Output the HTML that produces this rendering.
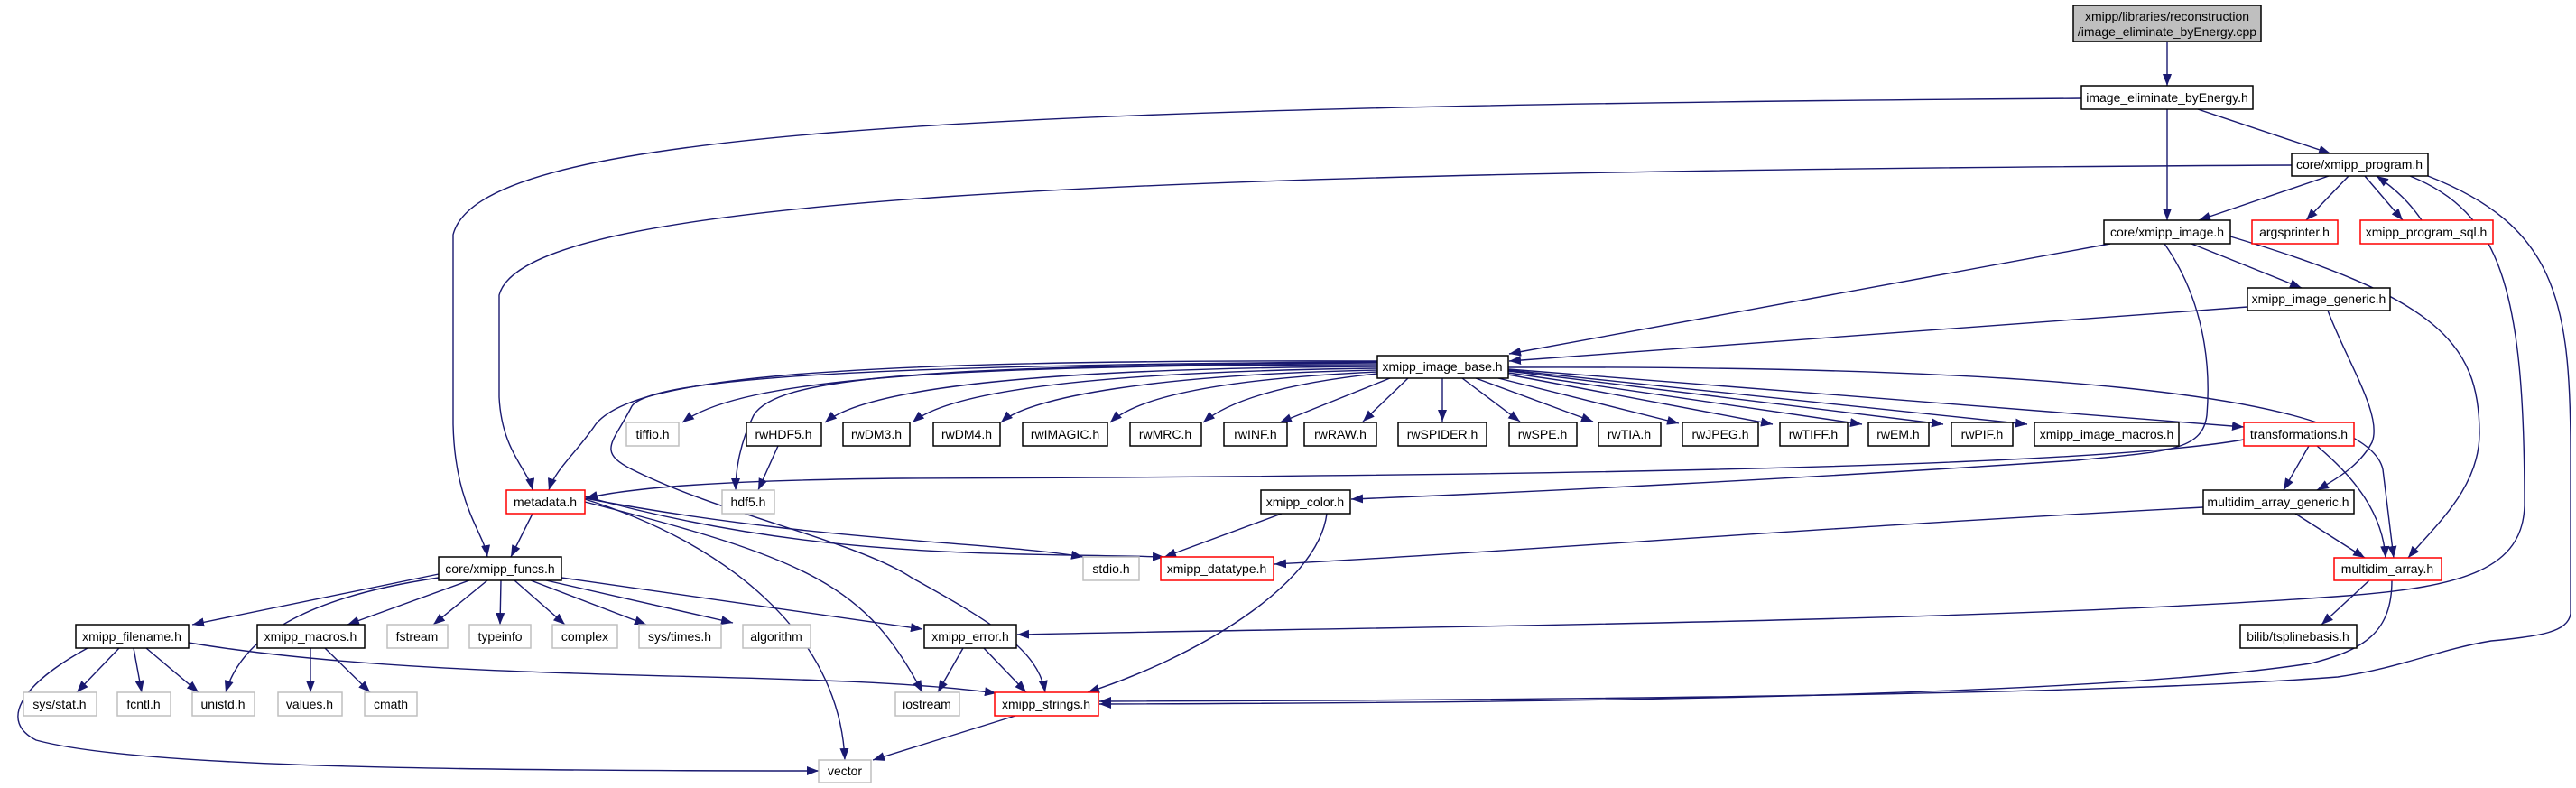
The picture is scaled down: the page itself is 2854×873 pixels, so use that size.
<!DOCTYPE html>
<html><head><meta charset="utf-8"><style>
html,body{margin:0;padding:0;background:#fff;}
svg{display:block;}
text{font-family:"Liberation Sans",sans-serif;font-size:14px;fill:#000;text-anchor:middle;}
.e{fill:none;stroke:#191970;stroke-width:1.4;}
.b rect{fill:#fff;stroke:#000;stroke-width:1.5;}
.g rect{fill:#fff;stroke:#bfbfbf;stroke-width:1.5;}
.r rect{fill:#fff;stroke:#ff0000;stroke-width:1.5;}
</style></head><body>
<svg width="2854" height="873" viewBox="0 0 2854 873" xmlns="http://www.w3.org/2000/svg">
<defs><marker id="a" markerUnits="userSpaceOnUse" markerWidth="14" markerHeight="10" refX="13" refY="5" orient="auto"><path d="M0,0 L13,5 L0,10 z" fill="#191970"/></marker></defs>
<g class="e" marker-end="url(#a)">
<path d="M2401,46 L2401,95"/>
<path d="M2435,121 L2582,170"/>
<path d="M2401,121 L2401,244"/>
<path d="M2306,109 C1000,118 530,150 502,260 L502,470 C504,560 536,590 540,617"/>
<path d="M2539,183 C1200,190 580,220 553,327 L553,440 C556,500 585,520 590,543"/>
<path d="M2580,195 L2436,244"/>
<path d="M2602,195 L2555,244"/>
<path d="M2620,195 L2662,244"/>
<path d="M2683,244 C2670,225 2655,210 2633,195"/>
<path d="M2670,195 C2770,235 2797,320 2797,560 C2795,630 2730,650 2600,660 C2200,690 1500,695 1127,703"/>
<path d="M2690,195 C2830,250 2848,330 2848,500 L2848,680 C2845,700 2815,705 2760,710 C2700,720 2660,740 2590,750 C2300,772 1600,776 1218,777"/>
<path d="M2650,643 C2650,700 2620,720 2560,735 C2300,775 1600,779 1218,780"/>
<path d="M2338,270 L1672,392"/>
<path d="M2428,270 L2550,319"/>
<path d="M2471,262 C2700,330 2747,380 2747,480 C2747,540 2700,580 2668,618"/>
<path d="M2398,270 C2440,330 2450,400 2445,460 C2440,500 2400,500 2300,510 C2000,530 1700,545 1497,553"/>
<path d="M2490,340 L1672,400"/>
<path d="M2579,344 C2600,400 2640,460 2628,490 C2615,515 2590,530 2567,543"/>
<path d="M1526,404 C1050,404 820,420 756,468"/>
<path d="M1526,406 C1150,408 960,430 914,468"/>
<path d="M1526,408 C1200,412 1050,435 1011,468"/>
<path d="M1526,410 C1280,415 1140,440 1109,468"/>
<path d="M1526,412 C1350,420 1260,440 1230,468"/>
<path d="M1526,414 C1420,425 1360,445 1333,468"/>
<path d="M1540,419 L1418,468"/>
<path d="M1560,419 L1510,467"/>
<path d="M1598,419 L1598,467"/>
<path d="M1620,419 L1684,467"/>
<path d="M1635,419 L1765,467"/>
<path d="M1660,419 L1860,469"/>
<path d="M1671,415 L1964,470"/>
<path d="M1671,413 L2063,470"/>
<path d="M1671,411 L2153,470"/>
<path d="M1671,410 L2246,470"/>
<path d="M1671,409 L2486,473"/>
<path d="M1671,407 C2200,405 2620,430 2640,520 L2652,618"/>
<path d="M1526,400 C900,398 700,420 660,470 C640,500 615,520 608,543"/>
<path d="M1526,402 C1000,405 860,420 835,460 C820,490 815,520 815,543"/>
<path d="M1526,401 C950,404 720,420 700,450 C680,490 660,500 700,520 C800,570 950,600 1010,640 C1100,690 1150,720 1158,767"/>
<path d="M862,494 L840,543"/>
<path d="M2486,487 C2300,520 1600,528 1000,530 C800,532 700,540 649,552"/>
<path d="M2558,494 L2530,543"/>
<path d="M2567,494 C2610,530 2640,570 2643,618"/>
<path d="M2543,569 L2620,618"/>
<path d="M2441,562 C2000,585 1700,610 1412,625"/>
<path d="M590,569 L566,617"/>
<path d="M648,553 C800,600 930,700 936,842"/>
<path d="M648,556 C900,620 960,650 1022,767"/>
<path d="M648,552 C900,600 1100,600 1200,617"/>
<path d="M648,550 C900,620 1100,612 1290,617"/>
<path d="M1420,569 L1290,617"/>
<path d="M1470,569 C1460,650 1320,730 1205,767"/>
<path d="M486,636 L213,692"/>
<path d="M486,640 C350,660 270,700 250,767"/>
<path d="M520,643 L385,692"/>
<path d="M540,643 L480,692"/>
<path d="M555,643 L554,692"/>
<path d="M570,643 L626,692"/>
<path d="M588,643 L716,692"/>
<path d="M605,643 L812,690"/>
<path d="M622,640 L1022,697"/>
<path d="M132,718 L85,767"/>
<path d="M148,718 L157,767"/>
<path d="M162,718 L220,767"/>
<path d="M97,718 C20,760 0,800 40,820 C150,850 500,854 907,854"/>
<path d="M209,712 C500,760 900,740 1104,768"/>
<path d="M344,718 L344,767"/>
<path d="M360,718 L410,767"/>
<path d="M1067,718 L1039,767"/>
<path d="M1090,718 L1137,767"/>
<path d="M1125,793 L967,842"/>
<path d="M2625,643 L2572,692"/>
</g>
<g class="g"><rect x="2297" y="6" width="208" height="40" style="fill:#bfbfbf;stroke:#000"/></g>
<text x="2401" y="23">xmipp/libraries/reconstruction</text>
<text x="2401" y="40">/image_eliminate_byEnergy.cpp</text>
<g class="b">
<rect x="2306" y="95" width="190" height="26"/>
<rect x="2539" y="170" width="151" height="25"/>
<rect x="2331" y="244" width="140" height="26"/>
<rect x="2490" y="319" width="158" height="25"/>
<rect x="1526" y="394" width="145" height="25"/>
<rect x="827" y="468" width="83" height="26"/>
<rect x="934" y="468" width="74" height="26"/>
<rect x="1034" y="468" width="74" height="26"/>
<rect x="1133" y="468" width="94" height="26"/>
<rect x="1252" y="468" width="79" height="26"/>
<rect x="1356" y="468" width="70" height="26"/>
<rect x="1445" y="468" width="80" height="26"/>
<rect x="1549" y="468" width="98" height="26"/>
<rect x="1672" y="468" width="75" height="26"/>
<rect x="1771" y="468" width="69" height="26"/>
<rect x="1864" y="468" width="84" height="26"/>
<rect x="1972" y="468" width="75" height="26"/>
<rect x="2070" y="468" width="67" height="26"/>
<rect x="2162" y="468" width="68" height="26"/>
<rect x="2254" y="468" width="160" height="26"/>
<rect x="1397" y="543" width="99" height="26"/>
<rect x="2441" y="543" width="167" height="26"/>
<rect x="486" y="617" width="136" height="26"/>
<rect x="84" y="692" width="125" height="26"/>
<rect x="285" y="692" width="119" height="26"/>
<rect x="1024" y="692" width="102" height="26"/>
<rect x="2482" y="692" width="129" height="26"/>
</g>
<g class="r">
<rect x="2495" y="244" width="95" height="26"/>
<rect x="2615" y="244" width="147" height="26"/>
<rect x="2486" y="468" width="122" height="26"/>
<rect x="561" y="543" width="87" height="26"/>
<rect x="1286" y="617" width="125" height="26"/>
<rect x="2586" y="618" width="119" height="25"/>
<rect x="1102" y="767" width="115" height="26"/>
</g>
<g class="g">
<rect x="694" y="468" width="58" height="26"/>
<rect x="800" y="543" width="58" height="26"/>
<rect x="1200" y="617" width="62" height="26"/>
<rect x="429" y="692" width="67" height="26"/>
<rect x="520" y="692" width="68" height="26"/>
<rect x="612" y="692" width="72" height="26"/>
<rect x="708" y="692" width="91" height="26"/>
<rect x="823" y="692" width="75" height="26"/>
<rect x="26" y="767" width="81" height="26"/>
<rect x="130" y="767" width="59" height="26"/>
<rect x="213" y="767" width="69" height="26"/>
<rect x="308" y="767" width="71" height="26"/>
<rect x="404" y="767" width="58" height="26"/>
<rect x="992" y="767" width="71" height="26"/>
<rect x="907" y="842" width="58" height="25"/>
</g>
<text x="2401" y="113">image_eliminate_byEnergy.h</text>
<text x="2614" y="187">core/xmipp_program.h</text>
<text x="2401" y="262">core/xmipp_image.h</text>
<text x="2542" y="262">argsprinter.h</text>
<text x="2688" y="262">xmipp_program_sql.h</text>
<text x="2569" y="336">xmipp_image_generic.h</text>
<text x="1598" y="411">xmipp_image_base.h</text>
<text x="723" y="486">tiffio.h</text>
<text x="868" y="486">rwHDF5.h</text>
<text x="971" y="486">rwDM3.h</text>
<text x="1071" y="486">rwDM4.h</text>
<text x="1180" y="486">rwIMAGIC.h</text>
<text x="1291" y="486">rwMRC.h</text>
<text x="1391" y="486">rwINF.h</text>
<text x="1485" y="486">rwRAW.h</text>
<text x="1598" y="486">rwSPIDER.h</text>
<text x="1709" y="486">rwSPE.h</text>
<text x="1805" y="486">rwTIA.h</text>
<text x="1906" y="486">rwJPEG.h</text>
<text x="2009" y="486">rwTIFF.h</text>
<text x="2103" y="486">rwEM.h</text>
<text x="2196" y="486">rwPIF.h</text>
<text x="2334" y="486">xmipp_image_macros.h</text>
<text x="2547" y="486">transformations.h</text>
<text x="604" y="561">metadata.h</text>
<text x="829" y="561">hdf5.h</text>
<text x="1446" y="561">xmipp_color.h</text>
<text x="2524" y="561">multidim_array_generic.h</text>
<text x="554" y="635">core/xmipp_funcs.h</text>
<text x="1231" y="635">stdio.h</text>
<text x="1348" y="635">xmipp_datatype.h</text>
<text x="2645" y="635">multidim_array.h</text>
<text x="146" y="710">xmipp_filename.h</text>
<text x="344" y="710">xmipp_macros.h</text>
<text x="462" y="710">fstream</text>
<text x="554" y="710">typeinfo</text>
<text x="648" y="710">complex</text>
<text x="753" y="710">sys/times.h</text>
<text x="860" y="710">algorithm</text>
<text x="1075" y="710">xmipp_error.h</text>
<text x="2546" y="710">bilib/tsplinebasis.h</text>
<text x="66" y="785">sys/stat.h</text>
<text x="159" y="785">fcntl.h</text>
<text x="247" y="785">unistd.h</text>
<text x="343" y="785">values.h</text>
<text x="433" y="785">cmath</text>
<text x="1027" y="785">iostream</text>
<text x="1159" y="785">xmipp_strings.h</text>
<text x="936" y="859">vector</text>
</svg>
</body></html>
